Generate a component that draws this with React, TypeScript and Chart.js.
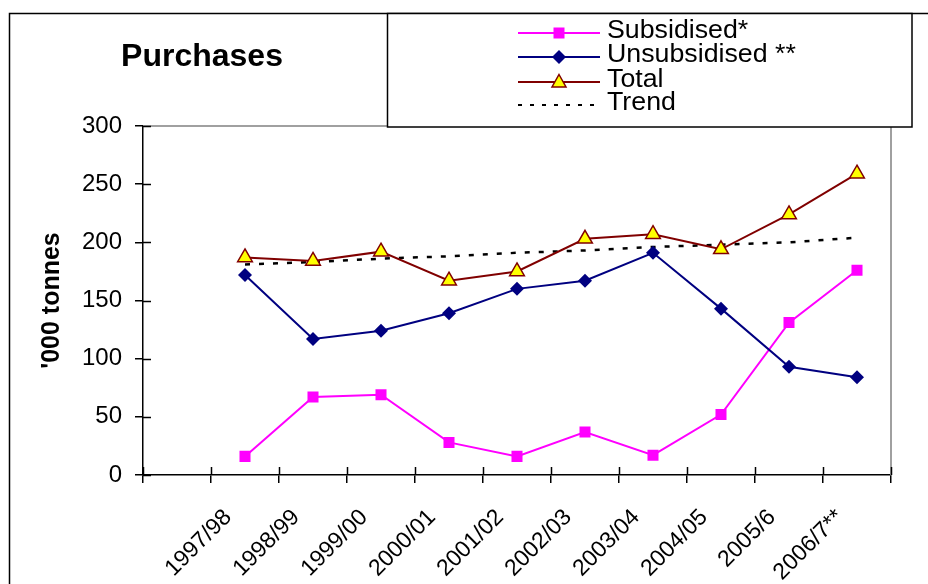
import React, { useEffect, useRef } from 'react';
import { Chart, registerables } from 'chart.js';

Chart.register(...registerables);

const categories = ['', '1997/98', '1998/99', '1999/00', '2000/01', '2001/02', '2002/03', '2003/04', '2004/05', '2005/6', '2006/7**'];
const subsidised = [null, 16, 67, 69, 28, 16, 37, 17, 52, 131, 176];
const unsubsidised = [null, 172, 117, 124, 139, 160, 167, 191, 143, 93, 84];
const total = [null, 187, 184, 192, 167, 175, 203, 207, 194, 224, 259];
const trend = [null, 181, 183, 186, 188, 191, 193, 196, 198, 200, 204];
const yMin = 0;
const yMax = 300;
const yStep = 50;

const titleText = 'Purchases';
const yTitle = "'000 tonnes";
const seriesNames = ['Subsidised*', 'Unsubsidised **', 'Total', 'Trend'];

const FONT = '"Liberation Sans", Arial, sans-serif';
const MAGENTA = '#FF00FF';
const NAVY = '#000080';
const MAROON = '#800000';
const YELLOW = '#FFFF00';

function drawMarker(ctx: CanvasRenderingContext2D, kind: string, x: number, y: number) {
  ctx.save();
  if (kind === 'rect') {
    ctx.fillStyle = MAGENTA;
    ctx.fillRect(x - 5.5, y - 5.5, 11, 11);
  } else if (kind === 'diamond') {
    ctx.fillStyle = NAVY;
    ctx.beginPath();
    ctx.moveTo(x, y - 7);
    ctx.lineTo(x + 7, y);
    ctx.lineTo(x, y + 7);
    ctx.lineTo(x - 7, y);
    ctx.closePath();
    ctx.fill();
  } else if (kind === 'triangle') {
    ctx.fillStyle = YELLOW;
    ctx.strokeStyle = MAROON;
    ctx.lineWidth = 1.5;
    ctx.beginPath();
    ctx.moveTo(x, y - 7.5);
    ctx.lineTo(x + 7, y + 5);
    ctx.lineTo(x - 7, y + 5);
    ctx.closePath();
    ctx.fill();
    ctx.stroke();
  }
  ctx.restore();
}

const decorPlugin = {
  id: 'decor',
  beforeDraw(chart: any) {
    const ctx = chart.ctx;
    ctx.save();
    ctx.fillStyle = '#FFFFFF';
    ctx.fillRect(0, 0, chart.width, chart.height);
    ctx.restore();
  },
  beforeDatasetsDraw(chart: any) {
    const ctx = chart.ctx;
    const a = chart.chartArea;
    ctx.save();
    // grey plot-area border (top and right)
    ctx.strokeStyle = '#A0A0A0';
    ctx.lineWidth = 2;
    ctx.beginPath();
    ctx.moveTo(a.left, a.top);
    ctx.lineTo(a.right, a.top);
    ctx.lineTo(a.right, a.bottom);
    ctx.stroke();
    // inward halves of the tick marks
    ctx.strokeStyle = '#000000';
    ctx.lineWidth = 1.5;
    const ys = chart.scales.y;
    for (let v = yMin; v <= yMax; v += yStep) {
      const py = Math.round(ys.getPixelForValue(v)) + 0.5;
      ctx.beginPath();
      ctx.moveTo(a.left, py);
      ctx.lineTo(a.left + 8, py);
      ctx.stroke();
    }
    const xs = chart.scales.x;
    const n = categories.length;
    for (let i = 0; i <= n; i++) {
      const px = Math.round(xs.left + (i * (xs.right - xs.left)) / n) + 0.5;
      ctx.beginPath();
      ctx.moveTo(px, a.bottom);
      ctx.lineTo(px, a.bottom - 8);
      ctx.stroke();
    }
    ctx.restore();
  },
  afterDraw(chart: any) {
    const ctx = chart.ctx;
    ctx.save();
    // outer chart frame (top and left visible)
    ctx.strokeStyle = '#000000';
    ctx.lineWidth = 1.5;
    ctx.beginPath();
    ctx.moveTo(9.5, chart.height);
    ctx.lineTo(9.5, 13.5);
    ctx.lineTo(chart.width, 13.5);
    ctx.stroke();

    // title
    ctx.fillStyle = '#000000';
    ctx.font = `bold 32px ${FONT}`;
    ctx.textAlign = 'center';
    ctx.textBaseline = 'alphabetic';
    ctx.fillText(titleText, 202, 66);

    // legend box
    ctx.fillStyle = '#FFFFFF';
    ctx.fillRect(387, 13, 525, 114);
    ctx.strokeStyle = '#000000';
    ctx.lineWidth = 1.5;
    ctx.strokeRect(387.5, 13.5, 524.5, 113.5);

    const rows = [33, 57, 82, 105];
    const colors = [MAGENTA, NAVY, MAROON, '#000000'];
    const markers = ['rect', 'diamond', 'triangle', ''];
    for (let i = 0; i < 4; i++) {
      const y = rows[i];
      ctx.save();
      ctx.strokeStyle = colors[i];
      ctx.lineWidth = 2;
      if (i === 3) ctx.setLineDash([4, 8]);
      ctx.beginPath();
      ctx.moveTo(518, y);
      ctx.lineTo(600, y);
      ctx.stroke();
      ctx.restore();
      if (markers[i]) drawMarker(ctx, markers[i], 559, y);
      ctx.save();
      ctx.fillStyle = '#000000';
      ctx.font = `25px ${FONT}`;
      ctx.textAlign = 'left';
      ctx.textBaseline = 'middle';
      ctx.translate(607, y - 2);
      ctx.scale(1.07, 1);
      ctx.fillText(seriesNames[i], 0, 0);
      ctx.restore();
    }
    ctx.restore();
  },
};

export default function App() {
  const canvasRef = useRef<HTMLCanvasElement | null>(null);

  useEffect(() => {
    const canvas = canvasRef.current;
    if (!canvas) return;
    const chart = new Chart(canvas, {
      type: 'line',
      data: {
        labels: categories,
        datasets: [
          {
            label: seriesNames[0],
            data: subsidised,
            borderColor: MAGENTA,
            backgroundColor: MAGENTA,
            borderWidth: 2,
            pointStyle: 'rect',
            pointRadius: 7.8,
            pointBorderWidth: 0,
            pointBackgroundColor: MAGENTA,
            pointBorderColor: MAGENTA,
            tension: 0,
            order: 3,
          },
          {
            label: seriesNames[1],
            data: unsubsidised,
            borderColor: NAVY,
            backgroundColor: NAVY,
            borderWidth: 2,
            pointStyle: 'rectRot',
            pointRadius: 7,
            pointBorderWidth: 0,
            pointBackgroundColor: NAVY,
            pointBorderColor: NAVY,
            tension: 0,
            order: 2,
          },
          {
            label: seriesNames[2],
            data: total,
            borderColor: MAROON,
            backgroundColor: YELLOW,
            borderWidth: 2,
            pointStyle: 'triangle',
            pointRadius: 8.5,
            pointBorderWidth: 1.5,
            pointBackgroundColor: YELLOW,
            pointBorderColor: MAROON,
            tension: 0,
            order: 1,
          },
          {
            label: seriesNames[3],
            data: trend,
            borderColor: '#000000',
            borderWidth: 2.5,
            borderDash: [5, 9],
            pointRadius: 0,
            tension: 0,
            order: 4,
          },
        ],
      },
      options: {
        responsive: false,
        animation: false,
        devicePixelRatio: 1,
        layout: { padding: { left: 0, top: 126, right: 37, bottom: 0 } },
        plugins: {
          legend: { display: false },
          title: { display: false },
          tooltip: { enabled: false },
        },
        scales: {
          x: {
            type: 'category',
            offset: true,
            grid: {
              offset: true,
              drawOnChartArea: false,
              drawTicks: true,
              tickLength: 8,
              color: '#000000',
              lineWidth: 1.5,
            },
            border: { display: true, color: '#000000', width: 1.5 },
            ticks: {
              autoSkip: false,
              minRotation: 45,
              maxRotation: 45,
              color: '#000000',
              font: { family: FONT, size: 23 },
              padding: 21,
              labelOffset: -17,
            },
            afterFit: (scale: any) => {
              scale.height = 109;
            },
          },
          y: {
            min: yMin,
            max: yMax,
            grid: {
              drawOnChartArea: false,
              drawTicks: true,
              tickLength: 8,
              color: '#000000',
              lineWidth: 1.5,
            },
            border: { display: true, color: '#000000', width: 1.5 },
            ticks: {
              stepSize: yStep,
              color: '#000000',
              font: { family: FONT, size: 24 },
              padding: 13,
            },
            title: {
              display: true,
              text: yTitle,
              color: '#000000',
              font: { family: FONT, size: 25, weight: 'bold' },
              padding: { top: 37, bottom: 0 },
            },
            afterFit: (scale: any) => {
              scale.width = 143;
            },
          },
        },
      },
      plugins: [decorPlugin],
    } as any);
    return () => {
      chart.destroy();
    };
  }, []);

  return (
    <div style={{ position: 'fixed', left: 0, top: 0, width: 928, height: 584, background: '#FFFFFF' }}>
      <canvas ref={canvasRef} width={928} height={584} style={{ display: 'block', width: 928, height: 584 }} />
    </div>
  );
}
